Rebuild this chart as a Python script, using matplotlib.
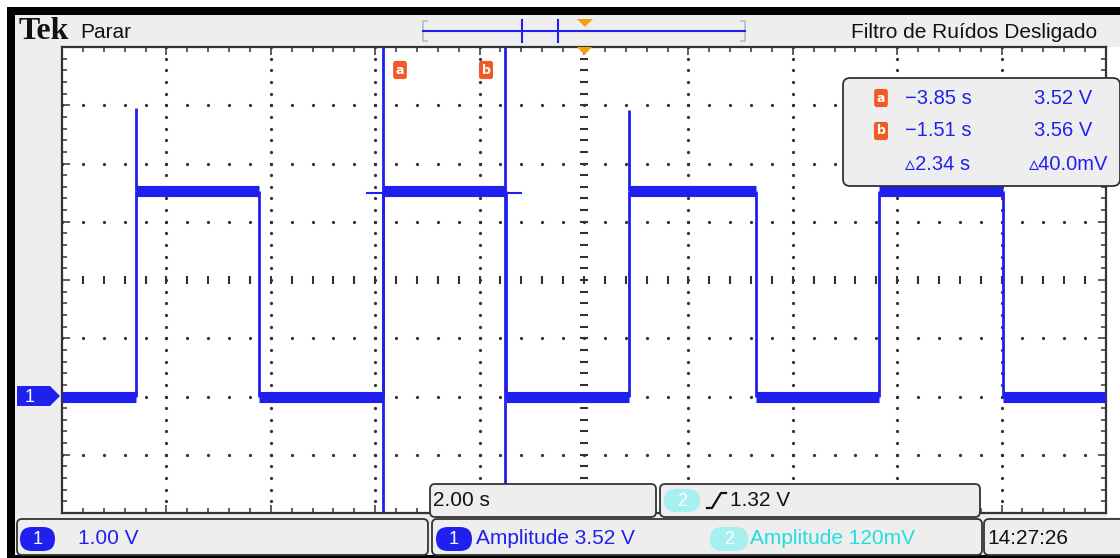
import numpy as np
import matplotlib.pyplot as plt
from matplotlib.patches import Rectangle, FancyBboxPatch, Polygon

edge_times = [-8.58, -6.22, -3.85, -1.49, 0.87, 3.29, 5.65, 8.02]  # s, primeira borda = subida
low_level = 0.0
high_level = 3.52
spike_times = [-8.58, 0.87]
spike_peaks = [4.95, 4.91]
cursor_a = -3.85
cursor_b = -1.51
cursor_mark = [-4.17, -1.18]
cursor_mark_v = 3.49

readout_times = ['\u22123.85 s', '\u22121.51 s', '\u25b52.34 s']
readout_volts = ['3.52 V', '3.56 V', '\u25b540.0mV']
header_left = 'Parar'
header_right = 'Filtro de Ruídos Desligado'
ch1_scale = '1.00 V'
time_scale = '2.00 s'
trig_level = '1.32 V'
meas1 = 'Amplitude 3.52 V'
meas2 = 'Amplitude 120mV'
clock = '14:27:26'

BLUE = '#2020ee'
CYAN = '#22dede'
CYAN_BG = '#a6f0f0'
ORANGE = '#f05a24'
TRIG = '#f0a010'
GRAY = '#eeeeee'
EDGE = '#333333'
FONT = ['Liberation Sans', 'DejaVu Sans']

W, H = 1120, 558
fig = plt.figure(figsize=(W / 100, H / 100), dpi=100)
fig.patch.set_facecolor('white')

# fundo (cinza + barras pretas)
bg = fig.add_axes([0, 0, 1, 1], zorder=0)
bg.set_xlim(0, W)
bg.set_ylim(H, 0)
bg.axis('off')
bg.add_patch(Rectangle((7, 7), W - 7, H - 7, fc=GRAY, ec='none'))
bg.add_patch(Rectangle((7, 7), W - 7, 8, fc='black', ec='none'))
bg.add_patch(Rectangle((7, 7), 8, H - 7, fc='black', ec='none'))
bg.add_patch(Rectangle((7, H - 3), W - 7, 3, fc='black', ec='none'))
bg.add_patch(Rectangle((1106, 47), 14, 470, fc='white', ec='none'))

# area do grafico
L, R, T, B = 62, 1106, 47, 513
ax = fig.add_axes([L / W, (H - B) / H, (R - L) / W, (B - T) / H], zorder=1)
ax.set_xlim(-10, 10)
ax.set_ylim(-2, 6)
ax.set_facecolor('white')
ax.set_xticks(np.arange(-10, 10.1, 2))
ax.set_xticks(np.arange(-10, 10.1, 0.4), minor=True)
ax.set_yticks(np.arange(-2, 6.1, 1))
ax.set_yticks(np.arange(-2, 6.1, 0.2), minor=True)
ax.tick_params(which='both', direction='in', top=True, right=True,
               labelbottom=False, labelleft=False, color=EDGE, width=1.1)
ax.tick_params(which='major', length=6)
ax.tick_params(which='minor', length=3.5)
for s in ax.spines.values():
    s.set_color(EDGE)
    s.set_linewidth(1.6)

# grade pontilhada
hx = np.arange(-10, 10.01, 0.4)
vy = np.arange(-2, 6.01, 0.2)
for yv in [-1, 0, 1, 3, 4, 5]:
    ax.plot(hx, np.full_like(hx, yv), 'o', ms=1.3, color=EDGE, zorder=1)
for xv in [-8, -6, -4, -2, 2, 4, 6, 8]:
    ax.plot(np.full_like(vy, xv), vy, 'o', ms=1.3, color=EDGE, zorder=1)
ax.plot(np.zeros_like(vy), vy, '_', ms=6, mew=1.5, color=EDGE, zorder=1)
ax.plot(hx, np.full_like(hx, 2.0), '|', ms=6, mew=1.5, color=EDGE, zorder=1)

# forma de onda (canal 1)
bounds = [-10] + edge_times + [10]
levels = [low_level if i % 2 == 0 else high_level for i in range(len(bounds) - 1)]
ax.hlines(levels, bounds[:-1], bounds[1:], colors=BLUE, lw=8, zorder=3)
ax.vlines(edge_times, low_level, high_level, colors=BLUE, lw=2, zorder=3)
ax.vlines(spike_times, high_level, spike_peaks, colors=BLUE, lw=2, zorder=3)

# cursores
ax.axvline(cursor_a, color=BLUE, lw=2, zorder=4)
ax.axvline(cursor_b, color=BLUE, lw=2, zorder=4)
ax.hlines(cursor_mark_v, cursor_mark[0], cursor_mark[1], colors=BLUE, lw=1.5, zorder=4)

# camada de cima: textos e caixas
ov = fig.add_axes([0, 0, 1, 1], zorder=2)
ov.set_xlim(0, W)
ov.set_ylim(H, 0)
ov.axis('off')
ov.patch.set_alpha(0)


def box(x0, y0, x1, y1, fc=GRAY, ec=EDGE, r=5, lw=1.3):
    ov.add_patch(FancyBboxPatch((x0, y0), x1 - x0, y1 - y0,
                                boxstyle=f'round,pad=0,rounding_size={r}',
                                fc=fc, ec=ec, lw=lw))


def badge(x0, y0, x1, y1, txt, fc, tc='white'):
    ov.add_patch(FancyBboxPatch((x0, y0), x1 - x0, y1 - y0,
                                boxstyle=f'round,pad=0,rounding_size={(y1 - y0) / 2}',
                                fc=fc, ec='none'))
    ov.text((x0 + x1) / 2, (y0 + y1) / 2 + 1, txt, color=tc, ha='center', va='center',
            fontsize=13, family=FONT)


def icon(x, y, txt):
    ov.text(x, y, txt, color='white', ha='center', va='center', fontsize=9,
            family='DejaVu Sans', fontweight='bold',
            bbox=dict(boxstyle='round,pad=0.15', fc=ORANGE, ec=ORANGE))


# cabecalho
ov.text(19, 39, 'Tek', family=['Liberation Serif', 'DejaVu Serif'], fontweight='bold',
        fontsize=23, va='baseline', ha='left', color='#111111')
ov.text(80, 32, header_left, family=FONT, fontsize=15, va='center', color='#111111')
ov.text(1097, 32, header_right, family=FONT, fontsize=15, va='center', ha='right',
        color='#111111')

# barra de posicao horizontal
ov.plot([427, 423, 423, 427], [21, 21, 41, 41], color='#bbbbbb', lw=1.2)
ov.plot([741, 745, 745, 741], [21, 21, 41, 41], color='#bbbbbb', lw=1.2)
ov.plot([423, 745], [31, 31], color=BLUE, lw=1.5)
ov.plot([522, 522], [20, 42], color=BLUE, lw=1.5)
ov.plot([558, 558], [20, 42], color=BLUE, lw=1.5)
ov.add_patch(Polygon([(577, 19), (593, 19), (585, 27)], fc=TRIG, ec='none'))
ov.add_patch(Polygon([(577, 47), (592, 47), (584.5, 55)], fc=TRIG, ec='none'))

# marcas dos cursores
icon(400, 70, 'a')
icon(486, 70, 'b')

# marcador de terra do canal 1
ov.add_patch(Polygon([(17, 386), (50, 386), (60, 396), (50, 406), (17, 406)], fc=BLUE, ec='none'))
ov.text(30, 397, '1', color='white', ha='center', va='center', fontsize=13, family=FONT)

# caixa de leitura dos cursores
box(843, 78, 1120, 186, r=7)
row_y = [98, 131, 165]
for i, yv in enumerate(row_y):
    if i < 2:
        icon(881, yv, 'ab'[i])
    ov.text(905, yv, readout_times[i], color=BLUE, fontsize=14.5, family=FONT, va='center')
    ov.text(1092 if i < 2 else 1108, yv, readout_volts[i], color=BLUE, fontsize=14.5,
            family=FONT, va='center', ha='right')

# caixas inferiores
box(430, 484, 656, 517)
ov.text(433, 501, time_scale, fontsize=15, family=FONT, va='center', color='#111111')
box(660, 484, 980, 517)
badge(664, 489, 700, 512, '2', CYAN_BG)
ov.plot([707, 712, 721, 726], [508, 508, 493, 493], color='#111111', lw=1.6)
ov.text(730, 501, trig_level, fontsize=15, family=FONT, va='center', color='#111111')

box(17, 519, 428, 555)
badge(20, 527, 55, 551, '1', BLUE)
ov.text(78, 539, ch1_scale, fontsize=15, family=FONT, va='center', color=BLUE)

box(432, 519, 982, 555)
badge(436, 527, 472, 551, '1', BLUE)
ov.text(476, 539, meas1, fontsize=15, family=FONT, va='center', color=BLUE)
badge(710, 527, 748, 551, '2', CYAN_BG)
ov.text(750, 539, meas2, fontsize=15, family=FONT, va='center', color=CYAN)

box(984, 519, 1124, 555)
ov.text(987, 539, clock, fontsize=15, family=FONT, va='center', color='#111111')

fig.savefig('out.png', dpi=100)
